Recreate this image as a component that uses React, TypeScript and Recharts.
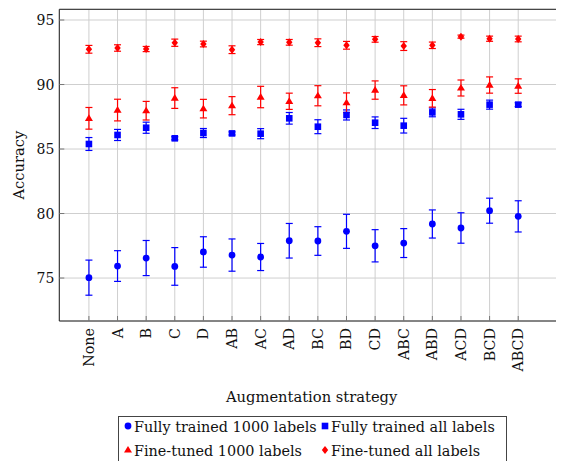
import { ComposedChart, Scatter, XAxis, YAxis, CartesianGrid, ErrorBar } from 'recharts'

const strategies = ['None', 'A', 'B', 'C', 'D', 'AB', 'AC', 'AD', 'BC', 'BD', 'CD', 'ABC', 'ABD', 'ACD', 'BCD', 'ABCD']

const fullyTrained1000 = [75.03, 75.93, 76.55, 75.9, 77.02, 76.78, 76.63, 77.89, 77.87, 78.62, 77.5, 77.71, 79.19, 78.88, 80.22, 79.78]
const fullyTrained1000Err = [1.36, 1.19, 1.36, 1.46, 1.18, 1.25, 1.05, 1.34, 1.11, 1.32, 1.25, 1.12, 1.09, 1.18, 0.97, 1.21]

const fullyTrainedAll = [85.39, 86.09, 86.65, 85.83, 86.24, 86.21, 86.19, 87.38, 86.73, 87.64, 87.04, 86.81, 87.84, 87.69, 88.44, 88.44]
const fullyTrainedAllErr = [0.5, 0.43, 0.43, 0.12, 0.35, 0.12, 0.39, 0.45, 0.54, 0.39, 0.45, 0.57, 0.34, 0.39, 0.35, 0.15]

const fineTuned1000 = [87.38, 88.02, 87.97, 88.95, 88.13, 88.36, 89.03, 88.7, 89.13, 88.59, 89.57, 89.16, 88.93, 89.73, 89.96, 89.88]
const fineTuned1000Err = [0.84, 0.84, 0.72, 0.8, 0.72, 0.7, 0.83, 0.63, 0.78, 0.76, 0.71, 0.74, 0.68, 0.62, 0.63, 0.56]

const fineTunedAll = [92.73, 92.83, 92.75, 93.24, 93.14, 92.7, 93.29, 93.27, 93.24, 93.04, 93.5, 92.98, 93.04, 93.71, 93.55, 93.53]
const fineTunedAllErr = [0.3, 0.25, 0.2, 0.28, 0.22, 0.3, 0.2, 0.22, 0.3, 0.3, 0.22, 0.34, 0.25, 0.12, 0.2, 0.22]

const yTicks = [75, 80, 85, 90, 95]
const xTicks = strategies.map((_, i) => i)

const FONT = '"DejaVu Serif", serif'
const BLUE = '#0000ff'
const RED = '#ff0000'

const toPoints = (values: number[], errors: number[]) =>
  values.map((y, i) => ({ x: i, y, err: errors[i] }))

const circle = (color: string) => (p: any) => <circle cx={p.cx} cy={p.cy} r={3.4} fill={color} />
const square = (color: string) => (p: any) => <rect x={p.cx - 3.3} y={p.cy - 3.3} width={6.6} height={6.6} fill={color} />
const triangle = (color: string) => (p: any) => (
  <polygon points={`${p.cx},${p.cy - 4} ${p.cx - 4},${p.cy + 2.6} ${p.cx + 4},${p.cy + 2.6}`} fill={color} />
)
const diamond = (color: string) => (p: any) => (
  <polygon points={`${p.cx},${p.cy - 4} ${p.cx + 3.2},${p.cy} ${p.cx},${p.cy + 4} ${p.cx - 3.2},${p.cy}`} fill={color} />
)

function BottomTick({ x, y, payload }: any) {
  return (
    <g>
      <line x1={x} y1={y} x2={x} y2={y - 5} stroke="#777" />
      <text
        x={0} y={0}
        transform={`translate(${x},${y + 7}) rotate(-90)`}
        textAnchor="end" dominantBaseline="central"
        fontFamily={FONT} fontSize={14.3} fill="#111"
      >
        {strategies[payload.value]}
      </text>
    </g>
  )
}

function TopTick({ x, y }: any) {
  return <line x1={x} y1={y} x2={x} y2={y + 5} stroke="#777" />
}

function LeftTick({ x, y, payload }: any) {
  return (
    <g>
      <line x1={x} y1={y} x2={x + 5} y2={y} stroke="#777" />
      <text x={x - 5} y={y} textAnchor="end" dominantBaseline="central" fontFamily={FONT} fontSize={14} fill="#111">
        {payload.value}
      </text>
    </g>
  )
}

const legendItems = [
  { label: 'Fully trained 1000 labels', shape: 'circle', color: BLUE, x: 128, y: 426 },
  { label: 'Fully trained all labels', shape: 'square', color: BLUE, x: 325, y: 426 },
  { label: 'Fine-tuned 1000 labels', shape: 'triangle', color: RED, x: 128, y: 450 },
  { label: 'Fine-tuned all labels', shape: 'diamond', color: RED, x: 325, y: 450 },
]

const markerFor = (shape: string, color: string) =>
  shape === 'circle' ? circle(color) : shape === 'square' ? square(color) : shape === 'triangle' ? triangle(color) : diamond(color)

export default function App() {
  return (
    <div style={{ position: 'relative', width: 556, height: 445 }}>
      <ComposedChart width={556} height={445} margin={{ top: 0, right: 0, bottom: 0, left: 0 }}>
        <CartesianGrid stroke="#cfcfcf" strokeWidth={1} />
        <XAxis
          dataKey="x" type="number" domain={[-1.035, 16.6]} ticks={xTicks} allowDataOverflow
          height={132} tickSize={0} tickMargin={0} tickLine={false} interval={0}
          axisLine={{ stroke: '#222', strokeWidth: 1 }} tick={<BottomTick />}
          label={({ viewBox }: any) => (
            <text x={viewBox.x + viewBox.width / 2} y={viewBox.y + 75} textAnchor="middle" dominantBaseline="central" fontFamily={FONT} fontSize={14.7} fill="#111">
              Augmentation strategy
            </text>
          )}
        />
        <XAxis
          xAxisId="top" orientation="top" type="number" domain={[-1.035, 16.6]} ticks={xTicks} allowDataOverflow
          height={1.3} tickSize={0} tickMargin={0} tickLine={false} interval={0}
          axisLine={{ stroke: '#222', strokeWidth: 1 }} tick={<TopTick />}
        />
        <YAxis
          dataKey="y" type="number" domain={[71.67, 95.83]} ticks={yTicks} allowDataOverflow
          width={51.3} tickSize={0} tickMargin={0} tickLine={false} interval={0}
          axisLine={{ stroke: '#222', strokeWidth: 1 }} tick={<LeftTick />}
          label={({ viewBox }: any) => (
            <text
              x={0} y={0}
              transform={`translate(${viewBox.x + 10},${viewBox.y + viewBox.height / 2}) rotate(-90)`}
              textAnchor="middle" dominantBaseline="central" fontFamily={FONT} fontSize={14.7} fill="#111"
            >
              Accuracy
            </text>
          )}
        />
        <Scatter data={toPoints(fullyTrained1000, fullyTrained1000Err)} shape={circle(BLUE)} isAnimationActive={false}>
          <ErrorBar dataKey="err" direction="y" width={3.5} stroke={BLUE} strokeWidth={1.2} isAnimationActive={false} />
        </Scatter>
        <Scatter data={toPoints(fullyTrainedAll, fullyTrainedAllErr)} shape={square(BLUE)} isAnimationActive={false}>
          <ErrorBar dataKey="err" direction="y" width={3.5} stroke={BLUE} strokeWidth={1.2} isAnimationActive={false} />
        </Scatter>
        <Scatter data={toPoints(fineTuned1000, fineTuned1000Err)} shape={triangle(RED)} isAnimationActive={false}>
          <ErrorBar dataKey="err" direction="y" width={3.5} stroke={RED} strokeWidth={1.2} isAnimationActive={false} />
        </Scatter>
        <Scatter data={toPoints(fineTunedAll, fineTunedAllErr)} shape={diamond(RED)} isAnimationActive={false}>
          <ErrorBar dataKey="err" direction="y" width={3.5} stroke={RED} strokeWidth={1.2} isAnimationActive={false} />
        </Scatter>
      </ComposedChart>
      {/* legend pinned to the window so it can run past the bottom edge like the original */}
      <svg width={564} height={461} style={{ position: 'fixed', left: 0, top: 0, pointerEvents: 'none' }}>
        <rect x={118.5} y={416.5} width={388} height={60} fill="white" stroke="#444" strokeWidth={1} />
        {legendItems.map(item => (
          <g key={item.label}>
            {markerFor(item.shape, item.color)({ cx: item.x, cy: item.y })}
            <text x={item.x + 6} y={item.y + 5.5} fontFamily={FONT} fontSize={14.4} fill="#111">
              {item.label}
            </text>
          </g>
        ))}
      </svg>
    </div>
  )
}
